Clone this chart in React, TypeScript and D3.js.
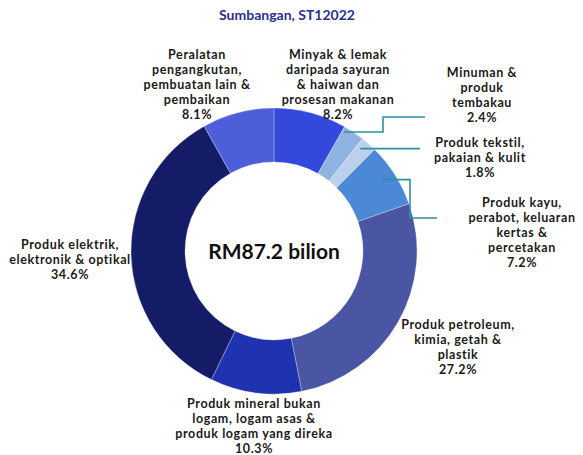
import React from "react";
import * as d3 from "d3";

const title = "Sumbangan, ST12022";
const centerLabel = "RM87.2 bilion";

const categories = [
  "Minyak & lemak daripada sayuran & haiwan dan prosesan makanan",
  "Minuman & produk tembakau",
  "Produk tekstil, pakaian & kulit",
  "Produk kayu, perabot, keluaran kertas & percetakan",
  "Produk petroleum, kimia, getah & plastik",
  "Produk mineral bukan logam, logam asas & produk logam yang direka",
  "Produk elektrik, elektronik & optikal",
  "Peralatan pengangkutan, pembuatan lain & pembaikan",
];

const shares = [8.2, 2.4, 1.8, 7.2, 27.2, 10.3, 34.6, 8.1];

const labelLines = [
  ["Minyak & lemak", "daripada sayuran", "& haiwan dan", "prosesan makanan"],
  ["Minuman &", "produk", "tembakau"],
  ["Produk tekstil,", "pakaian & kulit"],
  ["Produk kayu,", "perabot, keluaran", "kertas &", "percetakan"],
  ["Produk petroleum,", "kimia, getah &", "plastik"],
  ["Produk mineral bukan", "logam, logam asas &", "produk logam yang direka"],
  ["Produk elektrik,", "elektronik & optikal"],
  ["Peralatan", "pengangkutan,", "pembuatan lain &", "pembaikan"],
];

// layout (not data)
const colors = ["#3249DB", "#8FB3E3", "#BDD0EB", "#4B89D7", "#4A55A3", "#1F33B1", "#141C68", "#4C5ED8"];
const labelPos: [number, number][] = [
  [338, 55],
  [482, 73],
  [480, 143],
  [522, 203],
  [458, 325],
  [254, 404],
  [70, 245],
  [197, 55],
];
const leaders: { i: number; f: number; r: number; path: (p: [number, number]) => [number, number][] }[] = [
  { i: 1, f: 0.1, r: 138, path: ([x, y]) => [[x, y], [383, y], [383, 117], [425, 117]] },
  { i: 2, f: 0.3, r: 134, path: ([x, y]) => [[x, y], [420, y]] },
  { i: 3, f: 0.45, r: 129, path: ([x, y]) => [[x, y], [410, y], [410, 218], [437, 218]] },
];

const W = 583;
const H = 455;
const cx = 274;
const cy = 251;
const outerR = 143;
const innerR = 89;
const lineH = 15;
const font = "Lato, 'Open Sans', sans-serif";

export default function App() {
  const pie = d3.pie<number>().sort(null).value((d) => d)(shares);
  const arc = d3.arc<d3.PieArcDatum<number>>().innerRadius(innerR).outerRadius(outerR);
  const fmt = (v: number) => d3.format(".1f")(v) + "%";
  const line = d3.line();

  return (
    <svg
      width={W}
      height={H}
      style={{ position: "absolute", left: 0, top: 0, background: "#fff" }}
      fontFamily={font}
    >
      <text x={287} y={20} textAnchor="middle" fontSize={14} fontWeight="bold" fill="#2B2F8E">
        {title}
      </text>
      <g transform={`translate(${cx},${cy})`}>
        {pie.map((d, i) => (
          <path key={i} d={arc(d) || ""} fill={colors[i]} stroke="#fff" strokeWidth={0.3} />
        ))}
        <text x={0} y={7.5} textAnchor="middle" fontSize={21} fontWeight="bold" fill="#111">
          {centerLabel}
        </text>
      </g>
      {leaders.map((l, k) => {
        const d = pie[l.i];
        const a = d.startAngle + l.f * (d.endAngle - d.startAngle);
        const p: [number, number] = [cx + l.r * Math.sin(a), cy - l.r * Math.cos(a)];
        return (
          <path key={k} d={line(l.path(p)) || ""} fill="none" stroke="#2E8FA7" strokeWidth={1.6} />
        );
      })}
      {labelLines.map((lines, i) => {
        const [x, y] = labelPos[i];
        const all = [...lines, fmt(shares[i])];
        return (
          <text
            key={i}
            textAnchor="middle"
            fontSize={12.5}
            fontWeight="bold"
            letterSpacing={0.6}
            fill="#1a1a1a"
          >
            {all.map((t, j) => (
              <tspan key={j} x={x} y={y + 4 + j * lineH}>
                {t}
              </tspan>
            ))}
          </text>
        );
      })}
    </svg>
  );
}
